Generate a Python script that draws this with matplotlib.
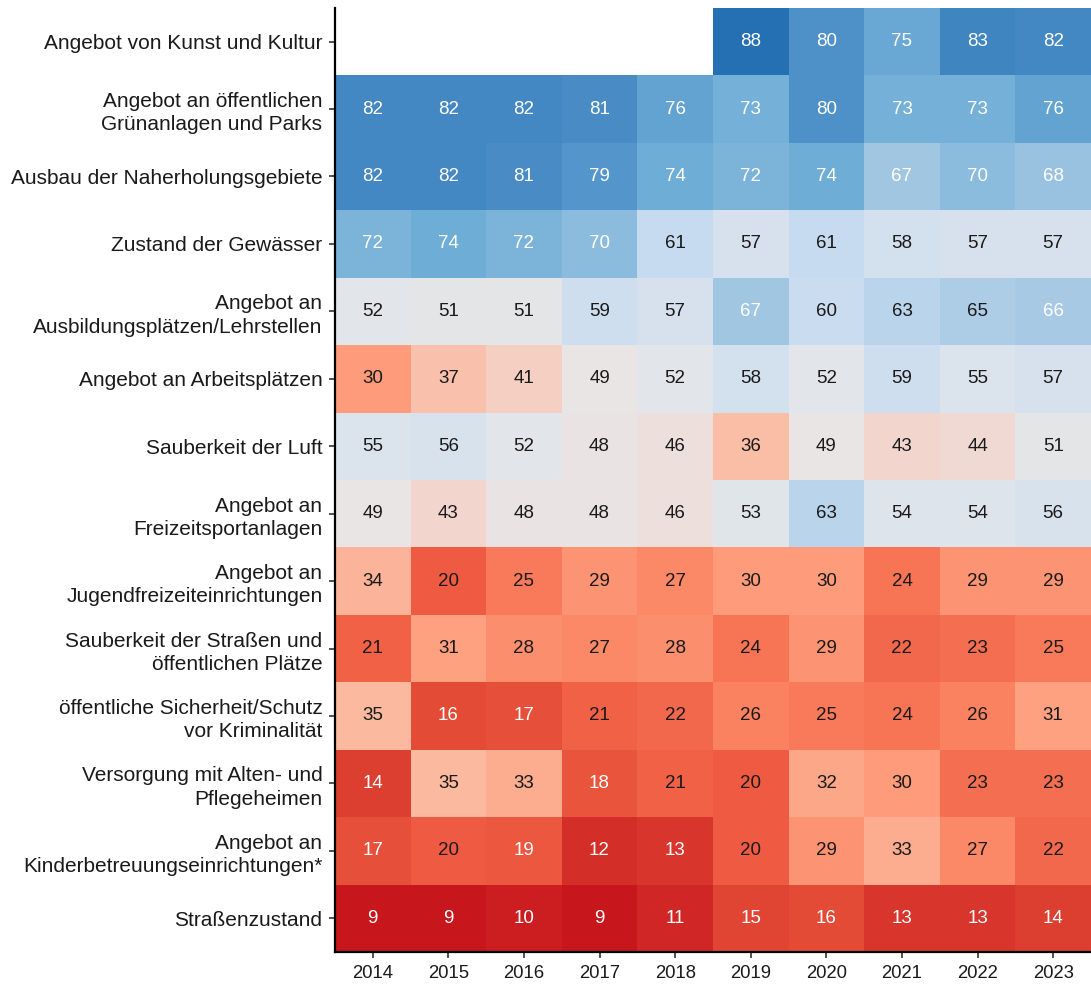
import numpy as np
import matplotlib
matplotlib.use("Agg")
import matplotlib.pyplot as plt
from matplotlib.colors import LinearSegmentedColormap

years = [2014, 2015, 2016, 2017, 2018, 2019, 2020, 2021, 2022, 2023]
categories = [
    "Angebot von Kunst und Kultur",
    "Angebot an öffentlichen\nGrünanlagen und Parks",
    "Ausbau der Naherholungsgebiete",
    "Zustand der Gewässer",
    "Angebot an\nAusbildungsplätzen/Lehrstellen",
    "Angebot an Arbeitsplätzen",
    "Sauberkeit der Luft",
    "Angebot an\nFreizeitsportanlagen",
    "Angebot an\nJugendfreizeiteinrichtungen",
    "Sauberkeit der Straßen und\nöffentlichen Plätze",
    "öffentliche Sicherheit/Schutz\nvor Kriminalität",
    "Versorgung mit Alten- und\nPflegeheimen",
    "Angebot an\nKinderbetreuungseinrichtungen*",
    "Straßenzustand",
]
nan = np.nan
kunst = [nan, nan, nan, nan, nan, 88, 80, 75, 83, 82]
gruen = [82, 82, 82, 81, 76, 73, 80, 73, 73, 76]
naherholung = [82, 82, 81, 79, 74, 72, 74, 67, 70, 68]
gewaesser = [72, 74, 72, 70, 61, 57, 61, 58, 57, 57]
ausbildung = [52, 51, 51, 59, 57, 67, 60, 63, 65, 66]
arbeit = [30, 37, 41, 49, 52, 58, 52, 59, 55, 57]
luft = [55, 56, 52, 48, 46, 36, 49, 43, 44, 51]
sport = [49, 43, 48, 48, 46, 53, 63, 54, 54, 56]
jugend = [34, 20, 25, 29, 27, 30, 30, 24, 29, 29]
strassen_sauber = [21, 31, 28, 27, 28, 24, 29, 22, 23, 25]
sicherheit = [35, 16, 17, 21, 22, 26, 25, 24, 26, 31]
alten = [14, 35, 33, 18, 21, 20, 32, 30, 23, 23]
kinder = [17, 20, 19, 12, 13, 20, 29, 33, 27, 22]
strassenzustand = [9, 9, 10, 9, 11, 15, 16, 13, 13, 14]

values = np.array([kunst, gruen, naherholung, gewaesser, ausbildung, arbeit, luft,
                   sport, jugend, strassen_sauber, sicherheit, alten, kinder,
                   strassenzustand], dtype=float)

# colour scale anchors (value -> colour)
vmin, vmax = 9, 88
anchors = [
    (9, "#c8161d"), (12, "#d5302a"), (16, "#e44c37"), (20, "#ee5c42"),
    (25, "#f97b5b"), (30, "#fd9b79"), (35, "#fbb9a0"), (42, "#f4d3c8"),
    (47, "#ebe3e1"), (50, "#e6e6e6"), (54, "#dee4eb"), (58, "#d3e0ee"),
    (61, "#c6dbef"), (67, "#a1c6e2"), (74, "#6eadd6"), (81, "#4a8dc6"),
    (88, "#2470b3"),
]
cmap = LinearSegmentedColormap.from_list(
    "custom", [((v - vmin) / (vmax - vmin), c) for v, c in anchors])
cmap.set_bad("white")

plt.rcParams["font.family"] = ["Liberation Sans", "DejaVu Sans"]

fig = plt.figure(figsize=(10.91, 9.84), dpi=100)
ax = fig.add_axes([0.307, 0.0325, 0.693, 0.9595])

data = np.ma.masked_invalid(values)
ax.pcolormesh(np.arange(len(years) + 1) - 0.5, np.arange(len(categories) + 1) - 0.5,
              data, cmap=cmap, vmin=vmin, vmax=vmax, edgecolor="none")
ax.set_xlim(-0.5, len(years) - 0.5)
ax.set_ylim(len(categories) - 0.5, -0.5)

for i in range(len(categories)):
    for j in range(len(years)):
        v = values[i, j]
        if np.isnan(v):
            continue
        color = "white" if (v < 20 or v > 65) else "#1a1a1a"
        ax.text(j, i, f"{int(v)}", ha="center", va="center", fontsize=13.5,
                color=color)

ax.set_xticks(range(len(years)))
ax.set_xticklabels([str(y) for y in years], fontsize=13.3, color="#1a1a1a")
ax.set_yticks(range(len(categories)))
ax.set_yticklabels(categories, fontsize=15, color="#1a1a1a", linespacing=1.28)
ax.tick_params(axis="both", length=4, width=1.2, color="#333333")
ax.tick_params(axis="y", pad=5)
ax.tick_params(axis="x", pad=5)

for s in ["top", "right"]:
    ax.spines[s].set_visible(False)
for s in ["left", "bottom"]:
    ax.spines[s].set_linewidth(1.6)
    ax.spines[s].set_color("black")

fig.savefig("out.png", dpi=100)
